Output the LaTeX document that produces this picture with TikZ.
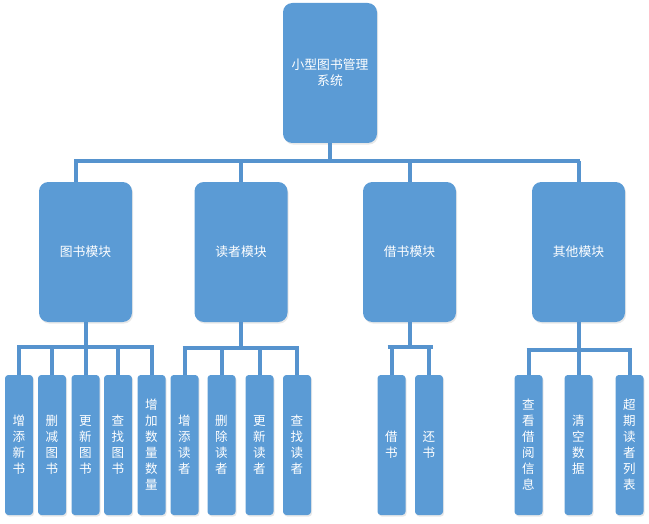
\documentclass[tikz,border=0pt]{standalone}
\usepackage{fontspec}
\newfontfamily\cjk{Noto Sans CJK SC}
\usetikzlibrary{shadows}
\definecolor{boxblue}{HTML}{5B9BD5}
\definecolor{linkblue}{HTML}{5693CE}
\begin{document}
\begin{tikzpicture}[x=0.75pt,y=-0.75pt,
  card/.style={rectangle,fill=boxblue,text=white,align=center,
    font=\cjk\fontsize{9.6}{12}\selectfont,inner sep=0pt,
    drop shadow={opacity=0.18,shadow xshift=0.8pt,shadow yshift=-1.2pt}},
  bigcard/.style={card,rounded corners=7pt,minimum width=70.5pt,minimum height=105pt},
  leaf/.style={card,rounded corners=2.5pt,minimum width=21pt,minimum height=105pt,
    font=\cjk\fontsize{9.4}{12}\selectfont},
  link/.style={draw=linkblue,line width=3pt}]
\useasboundingbox (0,0) rectangle (649,524);

% root and modules
\node[bigcard] (root) at (330,73) {小型图书管理\\系统};
\node[bigcard,minimum width=69.75pt] (m1) at (85.5,252) {图书模块};
\node[bigcard,minimum width=69.75pt] (m2) at (241,252) {读者模块};
\node[bigcard,minimum width=69.75pt] (m3) at (409.5,252) {借书模块};
\node[bigcard,minimum width=69.75pt] (m4) at (578.5,252) {其他模块};

% leaf functions
\node[leaf] (a1) at (19,445)  {增\\添\\新\\书};
\node[leaf] (a2) at (52,445)  {删\\减\\图\\书};
\node[leaf] (a3) at (85.5,445) {更\\新\\图\\书};
\node[leaf] (a4) at (118,445) {查\\找\\图\\书};
\node[leaf] (a5) at (151.5,445) {增\\加\\数\\量\\数\\量};

\node[leaf] (b1) at (184.5,445) {增\\添\\读\\者};
\node[leaf] (b2) at (221.5,445) {删\\除\\读\\者};
\node[leaf] (b3) at (259.5,445) {更\\新\\读\\者};
\node[leaf] (b4) at (297,445) {查\\找\\读\\者};

\node[leaf] (c1) at (391.5,445) {借\\书};
\node[leaf] (c2) at (429,445) {还\\书};

\node[leaf] (d1) at (528.5,445) {查\\看\\借\\阅\\信\\息};
\node[leaf] (d2) at (578.5,445) {清\\空\\数\\据};
\node[leaf] (d3) at (629.5,445) {超\\期\\读\\者\\列\\表};

% bus levels
\coordinate (topL) at (76,161);
\coordinate (topR) at (580,161);
\coordinate (busA) at (0,347);
\coordinate (busB) at (0,348);
\coordinate (busC) at (0,347);
\coordinate (busD) at (0,350);

% root to modules
\draw[link] (root.south) -- (root.south |- topL);
\draw[link] ([xshift=-1.5pt]topL) -- (topR);
\draw[link] (topL) -- (topL |- m1.north);
\foreach \m in {m2,m3,m4} \draw[link] (\m.north |- topL) -- (\m.north);

% book module
\draw[link] (m1.south) -- (m1.south |- busA);
\draw[link] ([xshift=-1.5pt]a1.north |- busA) -- ([xshift=1.5pt]a5.north |- busA);
\foreach \n in {a1,a2,a3,a4,a5} \draw[link] (\n.north |- busA) -- (\n.north);

% reader module
\draw[link] (m2.south) -- (m2.south |- busB);
\draw[link] ([xshift=-1.5pt]b1.north |- busB) -- ([xshift=1.5pt]b4.north |- busB);
\foreach \n in {b1,b2,b3,b4} \draw[link] (\n.north |- busB) -- (\n.north);

% borrowing module
\draw[link] (m3.south) -- (m3.south |- busC);
\draw[link] ([xshift=-3pt]c1.north |- busC) -- ([xshift=3pt]c2.north |- busC);
\foreach \n in {c1,c2} \draw[link] (\n.north |- busC) -- (\n.north);

% other module
\draw[link] (m4.south) -- (m4.south |- busD);
\draw[link] ([xshift=-1.5pt]d1.north |- busD) -- ([xshift=1.5pt]d3.north |- busD);
\foreach \n in {d1,d2,d3} \draw[link] (\n.north |- busD) -- (\n.north);
\end{tikzpicture}
\end{document}
